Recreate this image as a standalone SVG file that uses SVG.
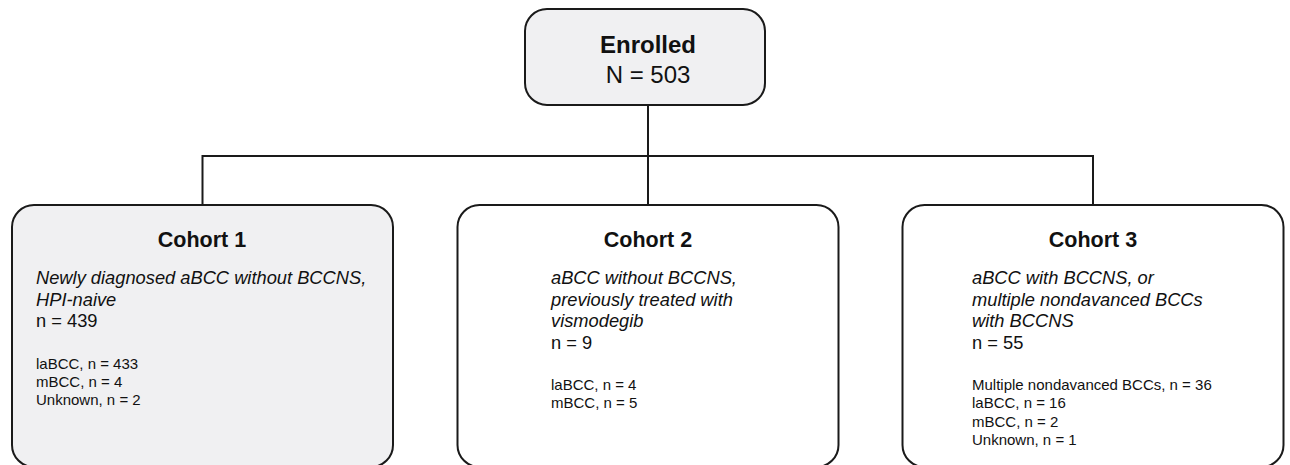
<svg xmlns="http://www.w3.org/2000/svg" width="1290" height="465" viewBox="0 0 1290 465">
<style>
.box{stroke:#1a1a1a;stroke-width:2}
.gray{fill:#f0f0f2}
.white{fill:#ffffff}
.conn{stroke:#1a1a1a;stroke-width:2;fill:none}
text{font-family:"Liberation Sans",Arial,sans-serif;fill:#111}
.title{font-size:21.5px;font-weight:bold;text-anchor:middle}
.big{font-size:24px;text-anchor:middle}
.it{font-size:18.3px;font-style:italic}
.n{font-size:18.3px}
.sm{font-size:15px}
</style>
<rect width="1290" height="465" fill="#ffffff"/>
<g id="connectors">
<path class="conn" d="M648,105 V156"/>
<path class="conn" d="M202.5,205 V156 H1093 V205"/>
<path class="conn" d="M648,156 V205"/>
</g>
<g id="enrolled">
<rect class="box gray" x="525" y="9" width="240" height="96" rx="22"/>
<text class="title" x="648" y="53" style="font-size:24px">Enrolled</text>
<text class="big" x="648" y="83">N = 503</text>
</g>
<g id="cohort1">
<rect class="box gray" x="12" y="205" width="381" height="262" rx="22"/>
<text class="title" x="202" y="247">Cohort 1</text>
<text class="it" x="36" y="284">Newly diagnosed aBCC without BCCNS,</text>
<text class="it" x="36" y="305.5">HPI-naive</text>
<text class="n" x="36" y="327">n = 439</text>
<text class="sm" x="36" y="369">laBCC, n = 433</text>
<text class="sm" x="36" y="387">mBCC, n = 4</text>
<text class="sm" x="36" y="405">Unknown, n = 2</text>
</g>
<g id="cohort2">
<rect class="box white" x="457.5" y="205" width="381" height="262" rx="22"/>
<text class="title" x="648" y="247">Cohort 2</text>
<text class="it" x="551" y="284">aBCC without BCCNS,</text>
<text class="it" x="551" y="305.5">previously treated with</text>
<text class="it" x="551" y="327">vismodegib</text>
<text class="n" x="551" y="348.5">n = 9</text>
<text class="sm" x="551" y="390">laBCC, n = 4</text>
<text class="sm" x="551" y="408">mBCC, n = 5</text>
</g>
<g id="cohort3">
<rect class="box white" x="902.5" y="205" width="381" height="262" rx="22"/>
<text class="title" x="1093" y="247">Cohort 3</text>
<text class="it" x="972" y="284">aBCC with BCCNS, or</text>
<text class="it" x="972" y="305.5">multiple nondavanced BCCs</text>
<text class="it" x="972" y="327">with BCCNS</text>
<text class="n" x="972" y="348.5">n = 55</text>
<text class="sm" x="972" y="390">Multiple nondavanced BCCs, n = 36</text>
<text class="sm" x="972" y="408.3">laBCC, n = 16</text>
<text class="sm" x="972" y="426.6">mBCC, n = 2</text>
<text class="sm" x="972" y="445">Unknown, n = 1</text>
</g>
</svg>
